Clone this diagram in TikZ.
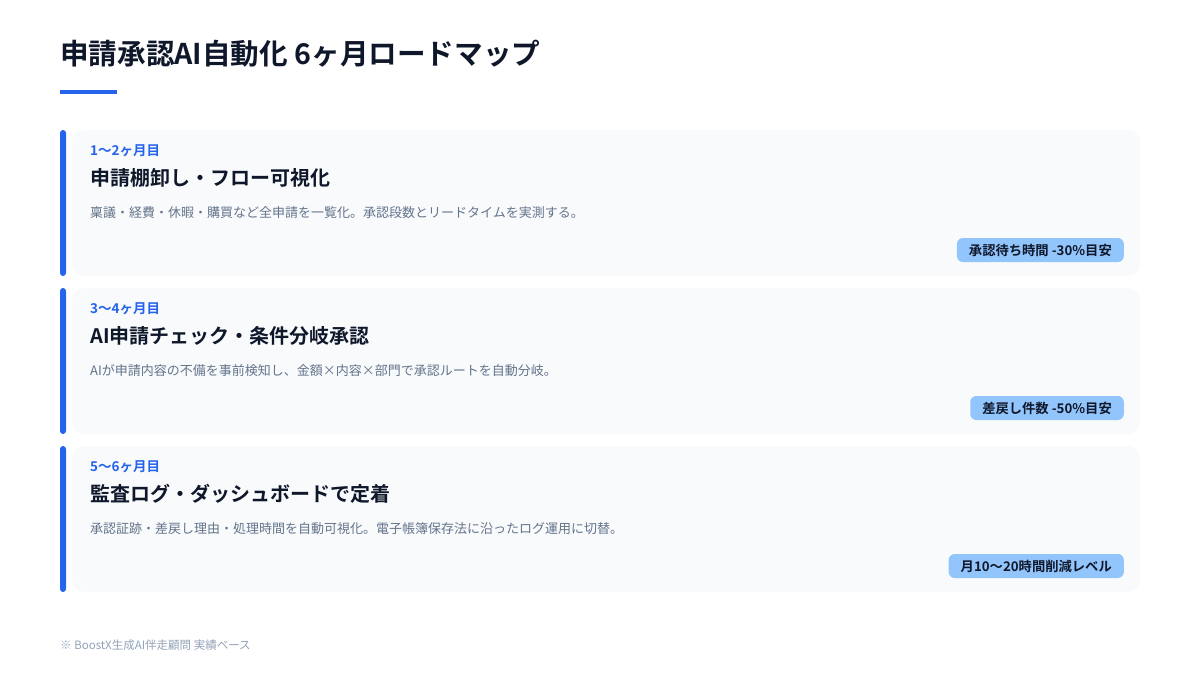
\documentclass[tikz,border=0pt]{standalone}
\usepackage{fontspec}
\setmainfont{Noto Sans CJK JP}[BoldFont={Noto Sans CJK JP Bold}]
\usepackage{tikz}
\usepackage{xcolor}

\definecolor{accent}{HTML}{2563EB}
\definecolor{ink}{HTML}{0F172A}
\definecolor{muted}{HTML}{64748B}
\definecolor{faint}{HTML}{94A3B8}
\definecolor{cardbg}{HTML}{F8FAFC}
\definecolor{badgebg}{HTML}{93C5FD}

\tikzset{
  card/.style={fill=cardbg, rounded corners=12pt},
  cardbar/.style={fill=accent, rounded corners=3pt},
  period/.style={anchor=west, inner sep=0pt, text=accent, font=\bfseries\fontsize{13.5}{15}\selectfont},
  phase/.style={anchor=west, inner sep=0pt, text=ink, font=\bfseries\fontsize{20}{23}\selectfont},
  detail/.style={anchor=west, inner sep=0pt, text=muted, font=\fontsize{13}{15}\selectfont},
  badge/.style={anchor=east, fill=badgebg, rounded corners=6pt, minimum height=24pt, inner xsep=12pt, inner ysep=0pt, text=ink, font=\bfseries\fontsize{13.3}{15}\selectfont}
}

\begin{document}
\begin{tikzpicture}[x=1pt, y=-1pt]

\useasboundingbox[fill=white] (0, 0) rectangle (1200, 675);

\node[anchor=west, inner sep=0pt, text=ink, font=\bfseries\fontsize{28.6}{33}\selectfont] (title) at (60, 54) {申請承認AI自動化 6ヶ月ロードマップ};
\fill[accent] (60, 90) rectangle (117, 94);

% phase 1
\fill[card] (72, 130) rectangle (1140, 276);
\fill[cardbar] (60, 130) rectangle (66, 276);
\node[period] (period a) at (90, 151) {1〜2ヶ月目};
\node[phase] (phase a) at (90, 178) {申請棚卸し・フロー可視化};
\node[detail] (detail a) at (90, 213) {稟議・経費・休暇・購買など全申請を一覧化。承認段数とリードタイムを実測する。};
\node[badge] (badge a) at (1124, 250) {承認待ち時間 -30\%目安};

% phase 2
\fill[card] (72, 288) rectangle (1140, 434);
\fill[cardbar] (60, 288) rectangle (66, 434);
\node[period] (period b) at (90, 309) {3〜4ヶ月目};
\node[phase] (phase b) at (90, 336) {AI申請チェック・条件分岐承認};
\node[detail] (detail b) at (90, 371) {AIが申請内容の不備を事前検知し、金額×内容×部門で承認ルートを自動分岐。};
\node[badge] (badge b) at (1124, 408) {差戻し件数 -50\%目安};

% phase 3
\fill[card] (72, 446) rectangle (1140, 592);
\fill[cardbar] (60, 446) rectangle (66, 592);
\node[period] (period c) at (90, 467) {5〜6ヶ月目};
\node[phase] (phase c) at (90, 494) {監査ログ・ダッシュボードで定着};
\node[detail] (detail c) at (90, 529) {承認証跡・差戻し理由・処理時間を自動可視化。電子帳簿保存法に沿ったログ運用に切替。};
\node[badge] (badge c) at (1124, 566) {月10〜20時間削減レベル};

\node[anchor=west, inner sep=0pt, text=faint, font=\fontsize{11.5}{13}\selectfont] (note) at (60, 645) {※ BoostX生成AI伴走顧問 実績ベース};

\end{tikzpicture}
\end{document}
